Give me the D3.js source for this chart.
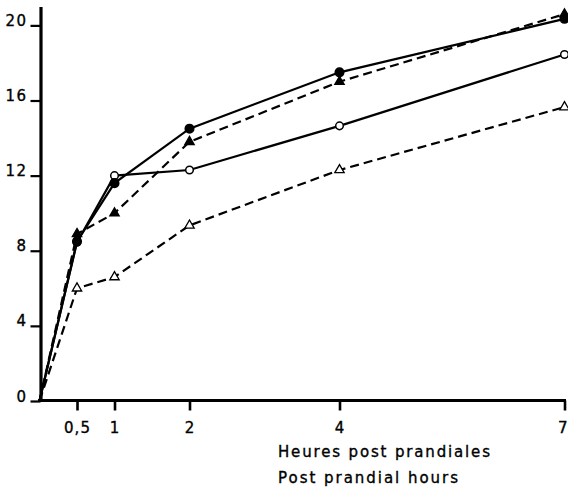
<!DOCTYPE html>
<html>
<head>
<meta charset="utf-8">
<script src="https://cdn.jsdelivr.net/npm/d3@7"></script>
<style>
  html, body { margin: 0; padding: 0; background: #fff; }
  svg { display: block; }
  text { font-family: "DejaVu Sans", sans-serif; fill: #000; stroke: #000; stroke-width: 0.35px; }
</style>
</head>
<body>
<svg id="chart" width="568" height="490"></svg>
<script>
// ---- Data ----
const hours = [0, 0.5, 1, 2, 4, 7];
const filledCircleValues   = [0, 8.5, 11.6, 14.5, 17.5, 20.35];
const filledTriangleValues = [0, 8.9, 10.0, 13.8, 17.0, 20.6];
const openCircleValues     = [0, 8.45, 12.0, 12.3, 14.65, 18.45];
const openTriangleValues   = [0, 6.0, 6.6, 9.35, 12.3, 15.65];

const yTickValues = [0, 4, 8, 12, 16, 20];
const yTickLabels = ["0", "4", "8", "12", "16", "20"];
const xTickValues = [0.5, 1, 2, 4, 7];
const xTickLabels = ["0,5", "1", "2", "4", "7"];
const xTitleFr = "Heures post prandiales";
const xTitleEn = "Post prandial hours";

const series = [
  { name: "filledTriangle", values: filledTriangleValues, dashed: true,  shape: "triangle", filled: true },
  { name: "openTriangle",   values: openTriangleValues,   dashed: true,  shape: "triangle", filled: false },
  { name: "openCircle",     values: openCircleValues,     dashed: false, shape: "circle",   filled: false },
  { name: "filledCircle",   values: filledCircleValues,   dashed: false, shape: "circle",   filled: true }
];

// ---- Layout ----
const svg = d3.select("#chart");
const x = d3.scaleLinear().domain([0, 7]).range([39.5, 564.5]);
const y = d3.scaleLinear().domain([0, 21]).range([401, 6.6]);

// ---- Axes ----
const yAxis = d3.axisLeft(y)
  .tickValues(yTickValues)
  .tickFormat((d, i) => yTickLabels[i])
  .tickSizeInner(10)
  .tickSizeOuter(0)
  .tickPadding(3);

const gy = svg.append("g")
  .attr("transform", "translate(40.5,0)")
  .call(yAxis);
gy.select(".domain").attr("stroke", "#000").attr("stroke-width", 3.2);
gy.selectAll(".tick line").attr("stroke", "#000").attr("stroke-width", 2.2);
gy.selectAll(".tick text")
  .attr("dy", "0")
  .attr("font-size", 15)
  .style("letter-spacing", "1.5px");

const xAxis = d3.axisBottom(x)
  .tickValues(xTickValues)
  .tickFormat((d, i) => xTickLabels[i])
  .tickSizeInner(10)
  .tickSizeOuter(0);

const gx = svg.append("g")
  .attr("transform", "translate(0,400.5)")
  .call(xAxis);
gx.select(".domain").attr("stroke", "#000").attr("stroke-width", 3.2)
  .attr("d", `M${x(0) - 1.5},0H${x(7) + 1.5}`);
gx.selectAll(".tick line").attr("stroke", "#000").attr("stroke-width", 2.6);
gx.selectAll(".tick text")
  .attr("y", 32)
  .attr("dy", "0")
  .attr("font-size", 15)
  .style("letter-spacing", "1px");
// keep the last label inside the picture edge
gx.selectAll(".tick text").filter(d => d === 7)
  .attr("text-anchor", "end")
  .attr("x", 3.5);

// ---- Axis titles ----
svg.append("text")
  .attr("x", 278).attr("y", 456.5)
  .attr("font-size", 15)
  .attr("textLength", 212)
  .attr("lengthAdjust", "spacing")
  .text(xTitleFr);
svg.append("text")
  .attr("x", 278).attr("y", 482.5)
  .attr("font-size", 15)
  .attr("textLength", 180)
  .attr("lengthAdjust", "spacing")
  .text(xTitleEn);

// ---- Lines ----
const line = d3.line()
  .x((d, i) => x(hours[i]))
  .y(d => y(d));

const gSeries = svg.append("g");
series.forEach(s => {
  gSeries.append("path")
    .datum(s.values)
    .attr("d", line)
    .attr("fill", "none")
    .attr("stroke", "#000")
    .attr("stroke-width", 2.2)
    .attr("stroke-dasharray", s.dashed ? "9,5" : null);
});

// ---- Markers ----
const triSym = d3.symbol().type(d3.symbolTriangle).size(38);
series.forEach(s => {
  const pts = s.values.map((v, i) => [hours[i], v]).filter(p => p[0] > 0);
  const g = svg.append("g");
  if (s.shape === "circle") {
    g.selectAll("circle").data(pts).join("circle")
      .attr("cx", p => x(p[0]))
      .attr("cy", p => y(p[1]))
      .attr("r", s.filled ? 4.3 : 3.8)
      .attr("fill", s.filled ? "#000" : "#fff")
      .attr("stroke", "#000")
      .attr("stroke-width", 1.5);
  } else {
    g.selectAll("path").data(pts).join("path")
      .attr("d", triSym)
      .attr("transform", p => `translate(${x(p[0])},${y(p[1])})`)
      .attr("fill", s.filled ? "#000" : "#fff")
      .attr("stroke", "#000")
      .attr("stroke-width", 1.3);
  }
});
</script>
</body>
</html>
